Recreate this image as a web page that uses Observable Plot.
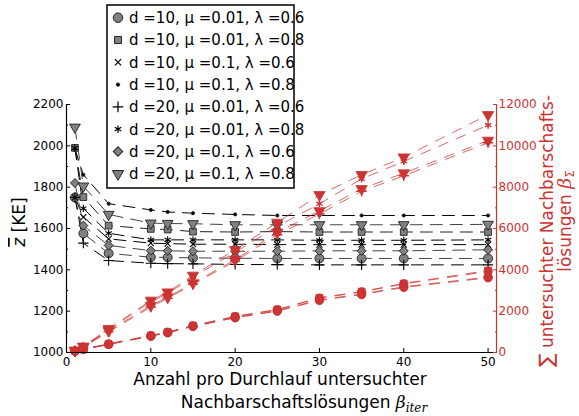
<!DOCTYPE html>
<html><head><meta charset="utf-8">
<script src="https://cdn.jsdelivr.net/npm/d3@7"></script>
<script src="https://cdn.jsdelivr.net/npm/@observablehq/plot@0.6"></script>
<style>
body{margin:0;background:#fff;font-family:"DejaVu Sans",sans-serif;}
#wrap{position:relative;width:579px;height:416px;overflow:hidden;}
#wrap svg{position:absolute;left:0;top:0;}
</style></head><body><div id="wrap"></div>
<script>
// ---------- data ----------
const betaIter = [1, 2, 5, 10, 12, 15, 20, 25, 30, 35, 40, 50];

const seriesLabels = [
  "d =10, μ =0.01, λ =0.6",
  "d =10, μ =0.01, λ =0.8",
  "d =10, μ =0.1, λ =0.6",
  "d =10, μ =0.1, λ =0.8",
  "d =20, μ =0.01, λ =0.6",
  "d =20, μ =0.01, λ =0.8",
  "d =20, μ =0.1, λ =0.6",
  "d =20, μ =0.1, λ =0.8"
];

// mean objective z (left axis, KE)
const zD10Mu001L06 = [1750, 1576, 1480, 1461, 1460, 1458, 1456, 1455, 1455, 1455, 1455, 1455];
const zD10Mu001L08 = [1990, 1752, 1614, 1598, 1595, 1585, 1583, 1585, 1583, 1583, 1583, 1583];
const zD10Mu01L06  = [1750, 1655, 1550, 1529, 1527, 1524, 1524, 1522, 1522, 1522, 1522, 1522];
const zD10Mu01L08  = [1985, 1860, 1720, 1690, 1680, 1674, 1668, 1663, 1663, 1663, 1663, 1663];
const zD20Mu001L06 = [1750, 1529, 1445, 1432, 1430, 1429, 1426, 1425, 1424, 1424, 1424, 1424];
const zD20Mu001L08 = [1990, 1697, 1577, 1545, 1545, 1545, 1545, 1545, 1543, 1543, 1543, 1545];
const zD20Mu01L06  = [1820, 1614, 1518, 1493, 1492, 1490, 1490, 1490, 1492, 1492, 1492, 1497];
const zD20Mu01L08  = [2090, 1805, 1668, 1626, 1624, 1623, 1618, 1618, 1618, 1618, 1618, 1620];

// total examined neighbourhood solutions beta_Sigma (right axis)
const bD10Mu001L06 = [63, 150, 390, 790, 953, 1258, 1680, 2000, 2520, 2800, 3150, 3613];
const bD10Mu001L08 = [80, 160, 420, 820, 990, 1300, 1750, 2080, 2650, 2950, 3340, 3968];
const bD10Mu01L06  = [65, 150, 395, 800, 960, 1270, 1690, 2020, 2550, 2830, 3180, 3650];
const bD10Mu01L08  = [75, 160, 415, 815, 985, 1290, 1740, 2070, 2630, 2930, 3320, 3920];
const bD20Mu001L06 = [90, 260, 1000, 2200, 2620, 3300, 4420, 5700, 6700, 7800, 8550, 10150];
const bD20Mu001L08 = [100, 280, 1100, 2450, 2850, 3650, 4850, 6100, 7200, 8400, 9250, 11000];
const bD20Mu01L06  = [90, 270, 1050, 2270, 2680, 3360, 4490, 5810, 6850, 7920, 8680, 10260];
const bD20Mu01L08  = [100, 300, 1150, 2520, 2920, 3730, 4970, 6290, 7630, 8600, 9450, 11500];

const leftTicks = [1000, 1200, 1400, 1600, 1800, 2000, 2200];
const rightTicks = [0, 2000, 4000, 6000, 8000, 10000, 12000];
const xTicks = [0, 10, 20, 30, 40, 50];

// ---------- styles ----------
const RED = "#cc3333";
const GREY = "#808080";
const zSets = [zD10Mu001L06, zD10Mu001L08, zD10Mu01L06, zD10Mu01L08, zD20Mu001L06, zD20Mu001L08, zD20Mu01L06, zD20Mu01L08];
const bSets = [bD10Mu001L06, bD10Mu001L08, bD10Mu01L06, bD10Mu01L08, bD20Mu001L06, bD20Mu001L08, bD20Mu01L06, bD20Mu01L08];
const styles = [
  {symbol: "circle",   r: 4.5, fill: GREY, rotate: 0,  line: "#444"},
  {symbol: "square",   r: 3.8, fill: GREY, rotate: 0,  line: "#222"},
  {symbol: "times",    r: 2.8, fill: "none", rotate: 0, line: "#000"},
  {symbol: "circle",   r: 1.6, fill: "#000", rotate: 0, line: "#000"},
  {symbol: "plus",     r: 3.4, fill: "none", rotate: 0, line: "#000"},
  {symbol: "asterisk", r: 3.4, fill: "none", rotate: 0, line: "#000"},
  {symbol: "square",   r: 3.6, fill: GREY, rotate: 45, line: "#444"},
  {symbol: "triangle", r: 4.0, fill: GREY, rotate: 180, line: "#444"}
];
const redSymbol = ["circle", "square", "circle", "circle", "plus", "asterisk", "triangle", "triangle"];

// beta on the right axis shares the y frame: 0..12000 <-> 1000..2200
const toY = b => 1000 + b / 10;
const fromY = y => (y - 1000) * 10;

const tables = zSets.map((z, s) => betaIter.map((x, i) => ({x, z: z[i], beta: bSets[s][i], s})));

const marks = [];
tables.forEach((t, s) => {
  const st = styles[s];
  marks.push(Plot.line(t, {x: "x", y: "z", stroke: st.line, strokeWidth: 1, strokeDasharray: "12,8"}));
});
tables.forEach((t, s) => {
  const st = styles[s];
  const stroked = st.fill === "none";
  marks.push(Plot.dot(t, {x: "x", y: "z", symbol: st.symbol, r: st.r, rotate: st.rotate,
    fill: stroked ? "none" : st.fill, stroke: stroked ? "#000" : "#222", strokeWidth: stroked ? 1.1 : 0.9}));
});
tables.forEach((t, s) => {
  marks.push(Plot.line(t, {x: "x", y: d => toY(d.beta), stroke: RED, strokeOpacity: 0.75, strokeWidth: 1, strokeDasharray: "10,9"}));
});
tables.forEach((t, s) => {
  const sym = redSymbol[s];
  const stroked = sym === "plus" || sym === "asterisk";
  const st = styles[s];
  marks.push(Plot.dot(t, {x: "x", y: d => toY(d.beta), symbol: sym,
    r: sym === "triangle" ? 4.2 : (sym === "circle" ? 4.2 : st.r), rotate: sym === "triangle" ? 180 : 0,
    fill: stroked ? "none" : RED, stroke: RED, strokeWidth: stroked ? 1.4 : 0.8}));
});

marks.push(
  Plot.ruleX([0], {stroke: "#000", strokeWidth: 1.2}),
  Plot.ruleX([51], {stroke: RED, strokeWidth: 1.2}),
  Plot.ruleY([1000], {stroke: "#000", strokeWidth: 1.2}),
  Plot.axisY({anchor: "left", ticks: leftTicks, tickSize: -4, tickPadding: 7, tickFormat: d => String(d), label: null, fontSize: 12, fill: "#000"}),
  Plot.axisY({anchor: "left", ticks: leftTicks.slice(0, -1).map(v => v + 100), tickSize: -2, tickFormat: () => "", label: null}),
  Plot.axisY({anchor: "right", ticks: rightTicks.map(toY), tickSize: -4, tickPadding: 6, tickFormat: y => String(Math.round(fromY(y))), label: null, color: RED, fontSize: 12}),
  Plot.axisY({anchor: "right", ticks: rightTicks.slice(0, -1).map(b => toY(b + 1000)), tickSize: -2, tickFormat: () => "", label: null, color: RED}),
  Plot.axisX({anchor: "bottom", ticks: xTicks, tickSize: -4, tickPadding: 9, tickFormat: d => String(d), label: null, fontSize: 12})
);

const chart = Plot.plot({
  width: 579, height: 416,
  marginLeft: 66, marginRight: 83, marginTop: 104, marginBottom: 64,
  x: {domain: [0, 51]},
  y: {domain: [1000, 2200]},
  style: {fontFamily: "DejaVu Sans", fontSize: "12px", background: "transparent", color: "#000"},
  marks
});
const wrap = document.getElementById("wrap");
wrap.appendChild(chart);

// ---------- overlay: axis titles + legend ----------
const ov = d3.select(wrap).append("svg").attr("width", 579).attr("height", 416)
  .style("font-family", "DejaVu Sans");

// left title
const lt = ov.append("text").attr("transform", "translate(25,222) rotate(-90)")
  .attr("text-anchor", "middle").attr("font-size", 17);
lt.append("tspan").attr("font-style", "italic").attr("text-decoration", "overline").text("z");
lt.append("tspan").text(" [KE]");

// x title
ov.append("text").attr("x", 280).attr("y", 385).attr("text-anchor", "middle").attr("font-size", 17)
  .text("Anzahl pro Durchlauf untersuchter");
const xt2 = ov.append("text").attr("x", 304).attr("y", 408).attr("text-anchor", "middle").attr("font-size", 17);
xt2.append("tspan").text("Nachbarschaftslösungen ");
xt2.append("tspan").attr("font-style", "italic").attr("font-family", "DejaVu Serif").text("β");
xt2.append("tspan").attr("font-style", "italic").attr("font-family", "DejaVu Serif").attr("font-size", 12).attr("dy", 4).text("iter");

// right title
const rt1 = ov.append("text").attr("transform", "translate(553,231) rotate(-90)")
  .attr("text-anchor", "middle").attr("font-size", 17).attr("fill", RED);
rt1.append("tspan").attr("font-size", 20).text("∑");
rt1.append("tspan").text(" untersuchter Nachbarschafts-");
const rt2 = ov.append("text").attr("transform", "translate(571,221) rotate(-90)")
  .attr("text-anchor", "middle").attr("font-size", 17).attr("fill", RED);
rt2.append("tspan").text("lösungen ");
rt2.append("tspan").attr("font-style", "italic").attr("font-family", "DejaVu Serif").attr("font-size", 19).text("β");
rt2.append("tspan").attr("font-size", 12).attr("dy", 3).text("Σ");

// legend
const lg = ov.append("g");
lg.append("rect").attr("x", 107).attr("y", 5).attr("width", 187).attr("height", 183)
  .attr("fill", "#fff").attr("stroke", "#000").attr("stroke-width", 1.5);
const symMap = {circle: d3.symbolCircle, square: d3.symbolSquare, times: d3.symbolTimes, plus: d3.symbolPlus,
  asterisk: d3.symbolAsterisk, triangle: d3.symbolTriangle};
seriesLabels.forEach((lab, i) => {
  const cy = 17.7 + i * 22.3;
  const st = styles[i];
  const stroked = st.fill === "none";
  const r = st.r * 1.05;
  lg.append("path").attr("d", d3.symbol(symMap[st.symbol], Math.PI * r * r)())
    .attr("transform", `translate(118,${cy}) rotate(${st.rotate})`)
    .attr("fill", stroked ? "none" : st.fill).attr("stroke", stroked ? "#000" : "#222")
    .attr("stroke-width", stroked ? 1.2 : 1);
  lg.append("text").attr("x", 129).attr("y", cy).attr("dy", "0.36em").attr("font-size", 15).text(lab);
});
</script></body></html>
